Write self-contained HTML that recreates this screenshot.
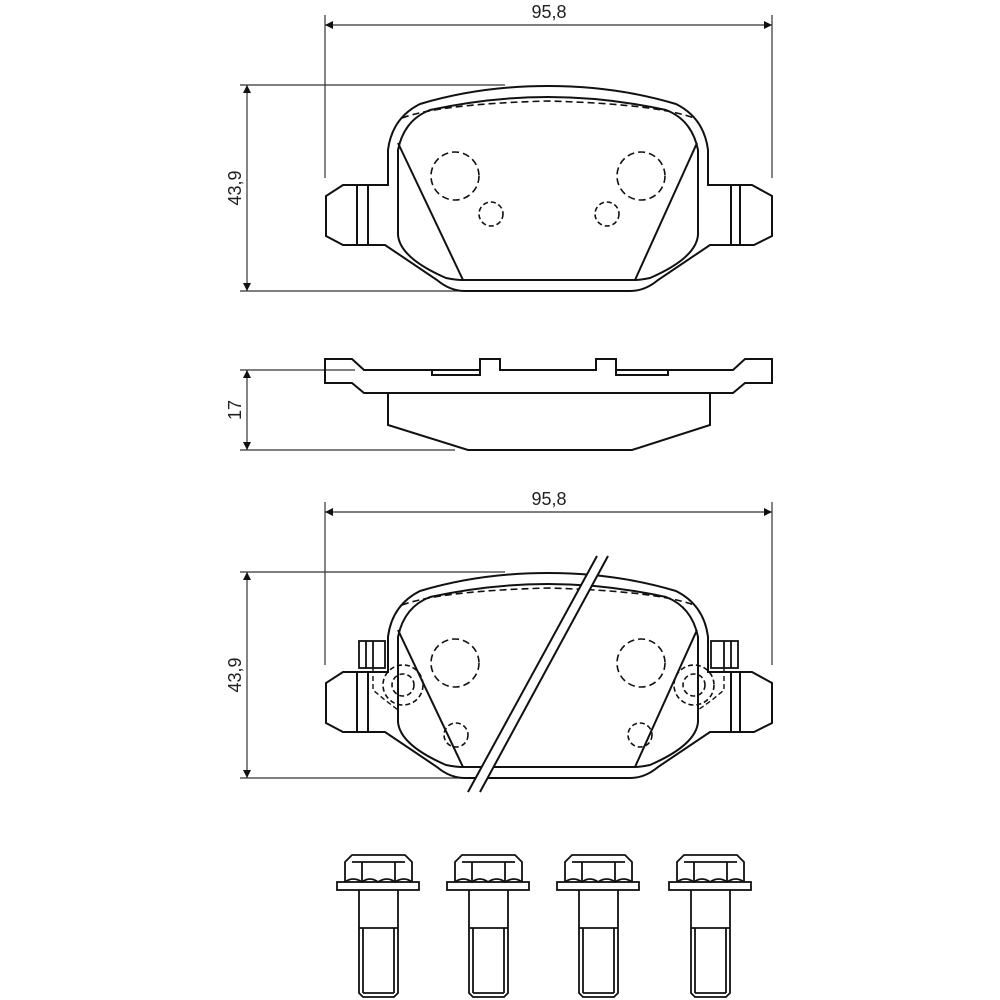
<!DOCTYPE html>
<html><head><meta charset="utf-8"><style>
html,body{margin:0;padding:0;background:#fff}
svg{display:block}
text{font-family:"Liberation Sans",sans-serif;font-size:18px;fill:#222}
</style></head><body>
<svg width="1000" height="1000" viewBox="0 0 1000 1000" xmlns="http://www.w3.org/2000/svg">
<defs>
<marker id="a" viewBox="0 0 10 10" refX="10" refY="5" markerWidth="16" markerHeight="8" orient="auto-start-reverse" markerUnits="userSpaceOnUse"><path d="M0,0 L10,5 L0,10z" fill="#111"/></marker>
<g id="pad" fill="none" stroke="#111" stroke-width="2">
 <path d="M388,185 L388,150 Q392,118 420,104 Q480,86 548,86 Q616,86 676,104 Q704,118 708,150 L708,185 L752,185 L772,196 L772,236 L754,245 L710,245 L658,280 Q645,291 630,291 L465,291 Q450,291 437,280 L385,245 L343,245 L326,236 L326,196 L343,185 Z"/>
 <path d="M398,150 Q404,120 430,110 Q490,97 548,97 Q606,97 666,110 Q692,120 698,150 L698,235 Q696,258 650,278 Q640,280 635,280 L462,280 Q456,280 446,278 Q400,258 398,235 Z"/>
 <line x1="398" y1="143" x2="463" y2="280"/>
 <line x1="697" y1="143" x2="635" y2="280"/>
 <line x1="357" y1="185" x2="357" y2="245"/><line x1="368" y1="185" x2="368" y2="245"/>
 <line x1="731" y1="185" x2="731" y2="245"/><line x1="740" y1="185" x2="740" y2="245"/>
 <g stroke-dasharray="7,4" stroke-width="1.6">
  <path d="M402,118 Q440,104 548,101 Q656,104 694,118"/>
  <circle cx="455" cy="176" r="24"/><circle cx="641" cy="176" r="24"/>
 </g>
</g>
</defs>

<g stroke="#333" stroke-width="1.2" fill="none">
 <line x1="325" y1="15" x2="325" y2="178"/><line x1="772" y1="15" x2="772" y2="178"/>
 <line x1="325" y1="25" x2="772" y2="25" marker-start="url(#a)" marker-end="url(#a)"/>
 <line x1="240" y1="85" x2="505" y2="85"/><line x1="240" y1="291" x2="460" y2="291"/>
 <line x1="247" y1="85" x2="247" y2="291" marker-start="url(#a)" marker-end="url(#a)"/>
</g>
<text x="549" y="18" text-anchor="middle">95,8</text>
<text transform="translate(241,188) rotate(-90)" text-anchor="middle">43,9</text>

<use href="#pad"/>
<g fill="none" stroke="#111" stroke-width="1.6" stroke-dasharray="5,3">
 <circle cx="491" cy="214" r="12"/><circle cx="607" cy="214" r="12"/>
</g>

<g stroke="#333" stroke-width="1.2" fill="none">
 <line x1="240" y1="370" x2="355" y2="370"/><line x1="240" y1="450" x2="455" y2="450"/>
 <line x1="247" y1="370" x2="247" y2="450" marker-start="url(#a)" marker-end="url(#a)"/>
</g>
<text transform="translate(241,410) rotate(-90)" text-anchor="middle">17</text>
<g fill="none" stroke="#111" stroke-width="2">
 <path d="M325,359 L352,359 L364,370 L480,370 L480,359 L500,359 L500,370 L596,370 L596,359 L616,359 L616,370 L733,370 L745,359 L772,359 L772,383 L745,383 L733,393 L364,393 L352,383 L325,383 Z"/>
 <path d="M432,370 L432,375 L480,375 L480,370 M616,370 L616,375 L668,375 L668,370"/>
 <path d="M388,393 L388,425 L468,450 L632,450 L710,425 L710,393"/>
</g>

<g stroke="#333" stroke-width="1.2" fill="none">
 <line x1="325" y1="502" x2="325" y2="665"/><line x1="772" y1="502" x2="772" y2="665"/>
 <line x1="325" y1="512" x2="772" y2="512" marker-start="url(#a)" marker-end="url(#a)"/>
 <line x1="240" y1="572" x2="505" y2="572"/><line x1="240" y1="778" x2="460" y2="778"/>
 <line x1="247" y1="572" x2="247" y2="778" marker-start="url(#a)" marker-end="url(#a)"/>
</g>
<text x="549" y="505" text-anchor="middle">95,8</text>
<text transform="translate(241,675) rotate(-90)" text-anchor="middle">43,9</text>

<use href="#pad" y="487"/>
<g fill="none" stroke="#111" stroke-width="1.8">
 <rect x="359" y="641" width="26" height="27"/><line x1="366" y1="641" x2="366" y2="668"/><line x1="373" y1="641" x2="373" y2="668"/>
 <rect x="711" y="641" width="27" height="27"/><line x1="724" y1="641" x2="724" y2="668"/><line x1="731" y1="641" x2="731" y2="668"/>
 <path d="M373,668 L373,690 L385,700 L398,710 M724,668 L724,690 L712,700 L698,710" stroke-width="1.4" stroke-dasharray="5,3"/>
</g>
<g fill="none" stroke="#111" stroke-width="1.6" stroke-dasharray="5,3">
 <circle cx="403" cy="685" r="11"/><circle cx="403" cy="685" r="20"/>
 <circle cx="694" cy="685" r="11"/><circle cx="694" cy="685" r="20"/>
 <circle cx="456" cy="735" r="12"/><circle cx="640" cy="735" r="12"/>
</g>
<path d="M597,556 L608,556 L480,792 L468,792 Z" fill="#fff" stroke="none"/>
<g stroke="#111" stroke-width="2">
 <line x1="597" y1="556" x2="468" y2="792"/><line x1="608" y1="556" x2="480" y2="792"/>
</g>

<g id="bolt" fill="none" stroke="#111" stroke-width="1.8">
 <path d="M345,882 L345,862 L352,855 L405,855 L412,862 L412,882"/>
 <line x1="352" y1="862" x2="405" y2="862"/>
 <line x1="362" y1="862" x2="362" y2="882"/><line x1="395" y1="862" x2="395" y2="882"/>
 <path d="M345,882 Q353,876 362,882 Q370,876 378,882 Q387,876 395,882 Q404,876 412,882"/>
 <rect x="337" y="882" width="82" height="8"/>
 <path d="M359,890 L359,993 L363,997 L394,997 L398,993 L398,890"/>
 <line x1="359" y1="928" x2="398" y2="928"/>
 <line x1="363" y1="928" x2="363" y2="993"/><line x1="394" y1="928" x2="394" y2="993"/>
 <line x1="363" y1="993" x2="394" y2="993"/>
</g>
<use href="#bolt" x="110"/>
<use href="#bolt" x="220"/>
<use href="#bolt" x="332"/>
</svg>
</body></html>
